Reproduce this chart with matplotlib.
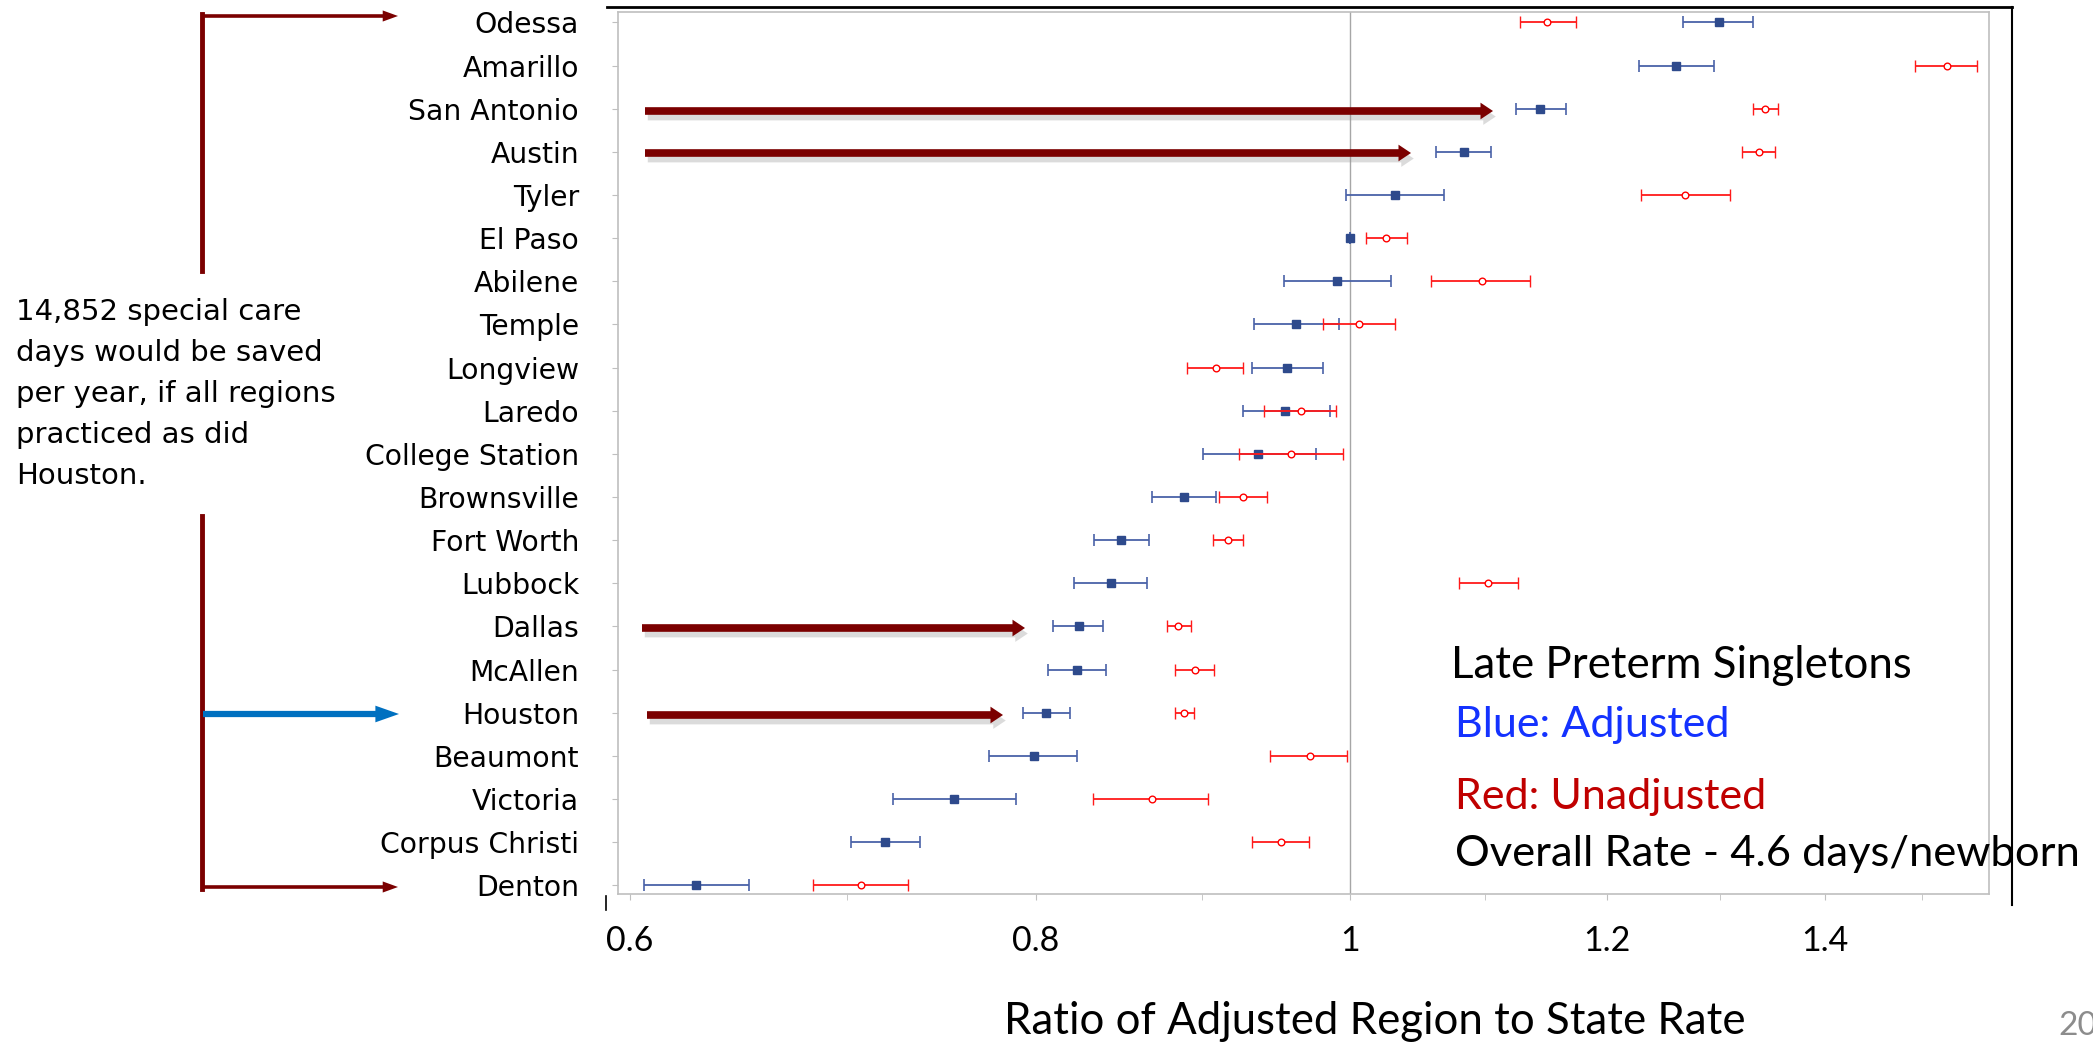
import numpy as np
import matplotlib.pyplot as plt
import matplotlib.patheffects as pe
from matplotlib.lines import Line2D
from matplotlib.patches import FancyArrowPatch
from matplotlib.ticker import NullFormatter

plt.rcParams['font.family'] = ['DejaVu Sans']

regions = ["Odessa", "Amarillo", "San Antonio", "Austin", "Tyler", "El Paso",
           "Abilene", "Temple", "Longview", "Laredo", "College Station",
           "Brownsville", "Fort Worth", "Lubbock", "Dallas", "McAllen",
           "Houston", "Beaumont", "Victoria", "Corpus Christi", "Denton"]

# adjusted ratio (blue) with interval
adj = [1.299, 1.260, 1.144, 1.084, 1.032, 1.000, 0.991, 0.962, 0.956, 0.955, 0.937,
       0.889, 0.850, 0.844, 0.825, 0.824, 0.806, 0.799, 0.755, 0.719, 0.629]
adj_lo = [1.266, 1.227, 1.125, 1.063, 0.997, 1.000, 0.954, 0.934, 0.933, 0.927, 0.901,
          0.869, 0.834, 0.822, 0.810, 0.807, 0.793, 0.774, 0.723, 0.702, 0.606]
adj_hi = [1.331, 1.294, 1.165, 1.105, 1.069, 1.000, 1.029, 0.992, 0.981, 0.986, 0.976,
          0.909, 0.867, 0.866, 0.839, 0.841, 0.820, 0.824, 0.789, 0.737, 0.653]

# unadjusted ratio (red) with interval
unadj = [1.150, 1.527, 1.342, 1.336, 1.268, 1.026, 1.098, 1.006, 0.909, 0.966, 0.959,
         0.927, 0.917, 1.103, 0.885, 0.896, 0.889, 0.972, 0.869, 0.952, 0.707]
unadj_lo = [1.128, 1.493, 1.331, 1.320, 1.229, 1.011, 1.059, 0.981, 0.891, 0.941, 0.924,
            0.911, 0.907, 1.080, 0.878, 0.883, 0.883, 0.945, 0.833, 0.933, 0.683]
unadj_hi = [1.174, 1.560, 1.354, 1.352, 1.309, 1.041, 1.136, 1.032, 0.927, 0.990, 0.995,
            0.943, 0.927, 1.126, 0.893, 0.908, 0.895, 0.998, 0.904, 0.971, 0.731]

xticks = [0.6, 0.8, 1.0, 1.2, 1.4]
xtick_labels = ["0.6", "0.8", "1", "1.2", "1.4"]
minor_ticks = [0.7, 0.9, 1.1, 1.3, 1.5]

W, H = 2093, 1046
fig = plt.figure(figsize=(W / 100, H / 100), dpi=100)


def fx(x):
    return x / W


def fy(y):
    return 1 - y / H


ax = fig.add_axes([fx(618), fy(894), fx(1989) - fx(618), fy(12) - fy(894)])
y = np.arange(len(regions))[::-1]

adj = np.array(adj)
unadj = np.array(unadj)
ax.axvline(1.0, color='#a6a6a6', lw=1, zorder=1)
ax.errorbar(adj, y, xerr=[adj - np.array(adj_lo), np.array(adj_hi) - adj],
            fmt='s', color='#2e4a8c', ms=5.5, ecolor='#4a62a8', elinewidth=1.3,
            capsize=4.5, capthick=1.2, zorder=3)
ax.errorbar(unadj, y, xerr=[unadj - np.array(unadj_lo), np.array(unadj_hi) - unadj],
            fmt='o', mfc='white', mec='#ff0000', ms=4.8, mew=1, ecolor='#ff1a1a',
            elinewidth=1.3, capsize=4.5, capthick=1.2, zorder=4)

ax.set_xscale('log')
ax.set_xlim(0.595, 1.573)
ax.set_ylim(-0.2, 20.24)
ax.set_xticks(xticks, labels=xtick_labels)
ax.set_xticks(minor_ticks, minor=True)
ax.xaxis.set_minor_formatter(NullFormatter())
ax.set_yticks(y, labels=regions)
for s in ax.spines.values():
    s.set_color('#bfbfbf')
    s.set_linewidth(1.2)
ax.tick_params(axis='both', which='both', direction='out', length=4, color='#bfbfbf')
ax.tick_params(axis='y', pad=24, labelsize=20.3)
ax.tick_params(axis='x', pad=18)
for t in ax.get_xticklabels():
    t.set_fontfamily('Lato')
    t.set_fontsize(24.5)

# frame remnants of the slide
fig.add_artist(Line2D([fx(607), fx(2012)], [fy(7), fy(7)], color='black', lw=2))
fig.add_artist(Line2D([fx(2012), fx(2012)], [fy(7), fy(905)], color='black', lw=1.5))
fig.add_artist(Line2D([fx(606), fx(606)], [fy(896), fy(910)], color='black', lw=1.2))


def arrow(x0, y0, x1, y1, color, tail, hw, hl, shadow=False):
    a = FancyArrowPatch((fx(x0), fy(y0)), (fx(x1), fy(y1)), transform=fig.transFigure,
                        arrowstyle=f"simple,head_length={hl},head_width={hw},tail_width={tail}",
                        mutation_scale=1, color=color, shrinkA=0, shrinkB=0, lw=0, zorder=6)
    if shadow:
        a.set_path_effects([pe.SimplePatchShadow(offset=(2, -4), shadow_rgbFace='#999999', alpha=0.35),
                            pe.Normal()])
    fig.add_artist(a)


dark_red = '#7b0000'
# bracket on the left
fig.add_artist(Line2D([fx(202)] * 2, [fy(14), fy(271)], color=dark_red, lw=3.5))
fig.add_artist(Line2D([fx(202)] * 2, [fy(516), fy(889)], color=dark_red, lw=3.5))
arrow(201, 16, 398, 16, dark_red, 2.6, 8, 11)
arrow(201, 887, 398, 887, dark_red, 2.6, 8, 11)
arrow(203, 714, 399, 714, '#0070c0', 4.5, 12, 17)

# arrows inside the plot
arrow(645, 111, 1493, 111, dark_red, 5.5, 12, 9, shadow=True)
arrow(645, 153, 1411, 153, dark_red, 5.5, 12, 9, shadow=True)
arrow(642, 628, 1025, 628, dark_red, 5.5, 12, 9, shadow=True)
arrow(647, 715, 1003, 715, dark_red, 5.5, 12, 9, shadow=True)

fig.text(fx(16), fy(394), "14,852 special care\ndays would be saved\nper year, if all regions\npracticed as did\nHouston.",
         ha='left', va='center', fontsize=21, linespacing=1.6)

fig.text(fx(1451), fy(665), "Late Preterm Singletons", fontfamily='Lato', fontsize=31.5, va='center', color='black')
fig.text(fx(1455), fy(725), "Blue: Adjusted", fontfamily='Lato', fontsize=31, va='center', color='#1432ff')
fig.text(fx(1455), fy(797), "Red: Unadjusted", fontfamily='Lato', fontsize=31, va='center', color='#c00000')
fig.text(fx(1455), fy(854), "Overall Rate - 4.6 days/newborn", fontfamily='Lato', fontsize=31.3, va='center', color='black')

fig.text(fx(1375), fy(1022), "Ratio of Adjusted Region to State Rate", fontfamily='Lato', fontsize=31.5,
         ha='center', va='center')
fig.text(fx(2058), fy(1026), "20", fontfamily='Lato', fontsize=24, color='#8c8c8c', va='center')

fig.savefig('out.png', dpi=100)
